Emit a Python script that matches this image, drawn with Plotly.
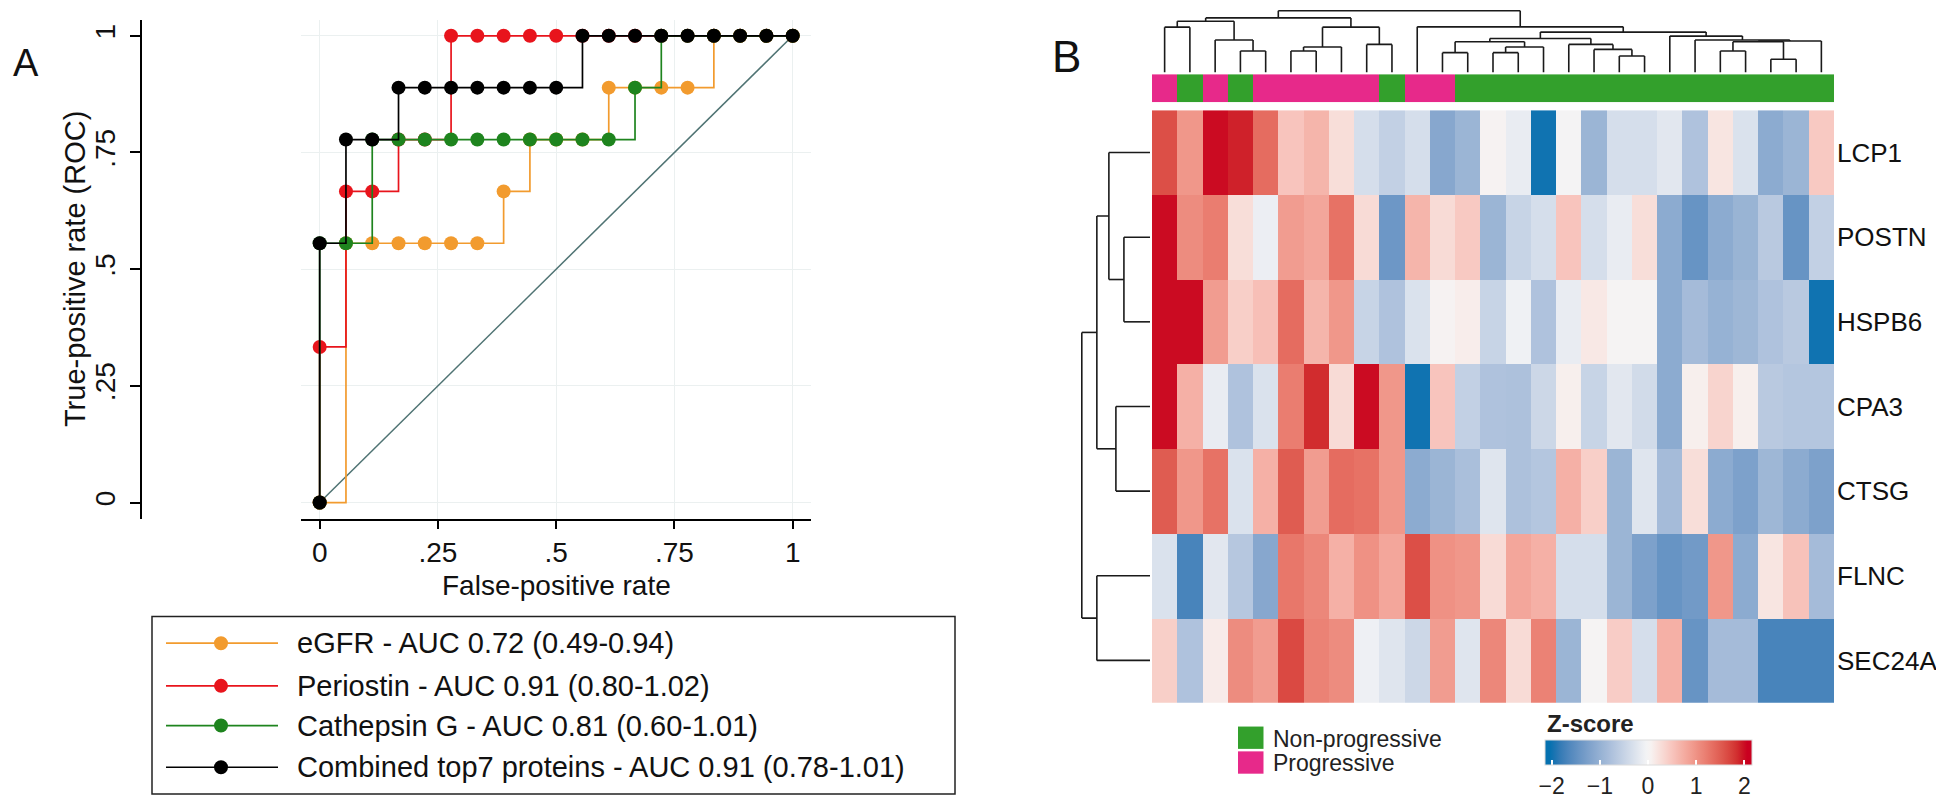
import plotly.graph_objects as go

# ---------------- DATA ----------------
N_NEG = 18
N_POS = 9
REF_LINE = [0, 1]

EGFR_FP = [0, 1, 2, 3, 4, 5, 6, 7, 8, 9, 10, 11, 12, 13, 14, 15, 16, 17, 18]
EGFR_TP = [0, 5, 5, 5, 5, 5, 5, 6, 7, 7, 7, 8, 8, 8, 8, 9, 9, 9, 9]
POSTN_FP = [0, 0, 1, 2, 3, 4, 5, 6, 7, 8, 9, 10, 11, 12, 13, 14, 15, 16, 17, 18]
POSTN_TP = [0, 3, 6, 6, 7, 7, 9, 9, 9, 9, 9, 9, 9, 9, 9, 9, 9, 9, 9, 9]
CTSG_FP = [0, 0, 1, 2, 3, 4, 5, 6, 7, 8, 9, 10, 11, 12, 13, 14, 15, 16, 17, 18]
CTSG_TP = [0, 5, 5, 7, 7, 7, 7, 7, 7, 7, 7, 7, 7, 8, 9, 9, 9, 9, 9, 9]
COMB_FP = [0, 0, 1, 2, 3, 4, 5, 6, 7, 8, 9, 10, 11, 12, 13, 14, 15, 16, 17, 18]
COMB_TP = [0, 5, 7, 7, 8, 8, 8, 8, 8, 8, 8, 9, 9, 9, 9, 9, 9, 9, 9, 9]

SERIES_NAMES = ["eGFR - AUC 0.72 (0.49-0.94)",
                "Periostin - AUC 0.91 (0.80-1.02)",
                "Cathepsin G - AUC 0.81 (0.60-1.01)",
                "Combined top7 proteins - AUC 0.91 (0.78-1.01)"]
SERIES_COLORS = ["#F29B2E", "#E8141C", "#1E841E", "#000000"]

ROC_TICKS = [0, 0.25, 0.5, 0.75, 1]
ROC_TICK_LABELS = ["0", ".25", ".5", ".75", "1"]

GENES = ["LCP1", "POSTN", "HSPB6", "CPA3", "CTSG", "FLNC", "SEC24A"]
LCP1 = [1.6, 0.95, 2.0, 1.9, 1.35, 0.5, 0.65, 0.25, -0.35, -0.55, -0.35, -1.15, -0.95, 0.03, -0.15, -2.0, -0.02, -0.95, -0.35, -0.35, -0.22, -0.75, 0.18, -0.3, -1.1, -0.95, 0.45]
POSTN = [2.0, 1.05, 1.2, 0.25, -0.12, 0.9, 0.8, 1.3, 0.28, -1.4, 0.65, 0.28, 0.45, -0.95, -0.5, -0.35, 0.5, -0.35, -0.15, 0.25, -1.1, -1.45, -1.1, -0.97, -0.65, -1.45, -0.55]
HSPB6 = [2.0, 2.0, 0.9, 0.4, 0.55, 1.35, 0.65, 0.95, -0.5, -0.75, -0.3, 0.02, 0.1, -0.5, -0.08, -0.75, -0.15, 0.15, 0.0, 0.0, -1.1, -0.85, -1.0, -0.92, -0.75, -0.65, -2.0]
CPA3 = [2.0, 0.7, -0.15, -0.75, -0.3, 1.2, 1.85, 0.28, 2.0, 0.95, -2.0, 0.5, -0.55, -0.75, -0.77, -0.45, 0.08, -0.5, -0.22, -0.4, -1.1, 0.08, 0.35, 0.08, -0.65, -0.7, -0.7]
CTSG = [1.5, 0.95, 1.3, -0.3, 0.7, 1.5, 0.9, 1.35, 1.3, 0.95, -1.1, -0.95, -0.8, -0.25, -0.77, -0.7, 0.7, 0.4, -0.95, -0.25, -0.85, 0.25, -1.1, -1.25, -0.92, -1.1, -1.25]
FLNC = [-0.3, -1.7, -0.22, -0.68, -1.15, 1.25, 1.1, 0.7, 1.0, 0.8, 1.6, 1.0, 0.95, 0.28, 0.8, 0.7, -0.35, -0.35, -0.95, -1.25, -1.45, -1.35, 0.95, -1.1, 0.18, 0.52, -0.85]
SEC24A = [0.4, -0.75, 0.12, 1.05, 0.9, 1.65, 1.15, 1.05, -0.1, -0.25, -0.45, 0.9, -0.25, 1.1, 0.28, 1.15, -0.95, 0.0, 0.42, -0.35, 0.7, -1.45, -0.85, -0.85, -1.7, -1.7, -1.7]

P, N = "Progressive", "Non-progressive"
GROUPS = [P, N, P, N, P, P, P, P, P, N, P, P] + [N] * 15
GROUP_COLORS = {"Non-progressive": "#33A02C", "Progressive": "#E7298A"}

# column dendrogram merges: (child a, child b, height); leaves 0..26, node 27+k
COL_MERGES = [
    (0, 1, 45.7), (3, 4, 21.7), (2, 28, 32.7), (27, 29, 51.7),
    (5, 6, 21.7), (31, 7, 25.7), (8, 9, 28.3), (32, 33, 45.7), (30, 34, 55.0),
    (11, 12, 20.0), (13, 14, 20.0), (37, 15, 25.7), (36, 38, 31.0),
    (18, 19, 16.7), (17, 40, 23.3), (16, 41, 28.3), (39, 42, 34.3),
    (22, 23, 21.7), (24, 25, 13.3), (44, 45, 31.0), (46, 26, 31.7),
    (21, 47, 32.7), (20, 48, 36.7), (43, 49, 40.7), (10, 50, 46.0), (35, 51, 62.3),
]
# row dendrogram merges, leaves 0..6
ROW_MERGES = [(1, 2, 26), (0, 7, 41), (3, 4, 34), (8, 9, 53), (5, 6, 53), (10, 11, 68)]

ZTICKS = [-2, -1, 0, 1, 2]

# ---------------- HELPERS ----------------
W, H = 1944, 797


def px(x):
    return x / W


def py(y):
    return 1 - y / H


def _lin(c):
    c = c / 255.0
    return c / 12.92 if c <= 0.04045 else ((c + 0.055) / 1.055) ** 2.4


def _srgb(c):
    v = 12.92 * c if c <= 0.0031308 else 1.055 * c ** (1 / 2.4) - 0.055
    return max(0, min(255, round(v * 255)))


def hex2lab(h):
    r, g, b = (_lin(int(h[i:i + 2], 16)) for i in (1, 3, 5))
    X = (0.4124 * r + 0.3576 * g + 0.1805 * b) / 0.95047
    Y = 0.2126 * r + 0.7152 * g + 0.0722 * b
    Z = (0.0193 * r + 0.1192 * g + 0.9505 * b) / 1.08883
    f = lambda t: t ** (1 / 3) if t > (6 / 29) ** 3 else t / (3 * (6 / 29) ** 2) + 4 / 29
    return 116 * f(Y) - 16, 500 * (f(X) - f(Y)), 200 * (f(Y) - f(Z))


def lab2hex(L, a, b):
    fy = (L + 16) / 116
    fx = fy + a / 500
    fz = fy - b / 200
    fi = lambda t: t ** 3 if t > 6 / 29 else 3 * (6 / 29) ** 2 * (t - 4 / 29)
    X, Y, Z = 0.95047 * fi(fx), fi(fy), 1.08883 * fi(fz)
    r = 3.2406 * X - 1.5372 * Y - 0.4986 * Z
    g = -0.9689 * X + 1.8758 * Y + 0.0415 * Z
    bb = 0.0557 * X - 0.2040 * Y + 1.0570 * Z
    return "#%02x%02x%02x" % tuple(_srgb(max(0, v)) for v in (r, g, bb))


def ramp(z, lo, mid, hi):
    """LAB colour ramp -2 -> 0 -> 2 (clamped)."""
    z = max(-2.0, min(2.0, z))
    if z <= 0:
        s = (z + 2) / 2
        L = [lo[k] + (mid[k] - lo[k]) * s for k in range(3)]
    else:
        s = z / 2
        L = [mid[k] + (hi[k] - mid[k]) * s for k in range(3)]
    return lab2hex(*L)


ZMIN, ZMAX = -2.15, 2.15


def build_scale(n=43):
    lo, mid, hi = hex2lab("#0571B0"), hex2lab("#F7F7F7"), hex2lab("#CA0020")
    out = []
    for i in range(n + 1):
        t = i / n
        z = ZMIN + t * (ZMAX - ZMIN)
        out.append([t, ramp(z, lo, mid, hi)])
    return out


def dendro(n, merges):
    pos = {i: float(i) for i in range(n)}
    hgt = {i: 0.0 for i in range(n)}
    xs, ys = [], []
    for k, (a, b, h) in enumerate(merges):
        for c in (a, b):
            xs += [pos[c], pos[c], None]
            ys += [hgt[c], h, None]
        xs += [pos[a], pos[b], None]
        ys += [h, h, None]
        pos[n + k] = (pos[a] + pos[b]) / 2
        hgt[n + k] = h
    return xs, ys


FA = "Liberation Sans, Arial, sans-serif"
FB = "Liberation Sans, Arial, sans-serif"

fig = go.Figure()

# ---------------- PANEL A: ROC ----------------
fig.add_trace(go.Scatter(x=REF_LINE, y=REF_LINE, mode="lines",
                         line=dict(color="#4F7373", width=1.5),
                         xaxis="x", yaxis="y", hoverinfo="skip", showlegend=False))
roc = [(EGFR_FP, EGFR_TP), (POSTN_FP, POSTN_TP), (CTSG_FP, CTSG_TP), (COMB_FP, COMB_TP)]
for (fp, tp), name, col in zip(roc, SERIES_NAMES, SERIES_COLORS):
    fig.add_trace(go.Scatter(
        x=[f / N_NEG for f in fp], y=[t / N_POS for t in tp], name=name,
        mode="lines+markers", line=dict(color=col, width=1.7, shape="hv"),
        marker=dict(size=14, color=col), xaxis="x", yaxis="y", showlegend=False))

# ---------------- PANEL B: heatmap ----------------
Z = [LCP1, POSTN, HSPB6, CPA3, CTSG, FLNC, SEC24A]
ncol = len(LCP1)
fig.add_trace(go.Heatmap(
    z=Z, x=list(range(ncol)), y=list(range(len(GENES))), colorscale=build_scale(),
    zmin=ZMIN, zmax=ZMAX, xaxis="x2", yaxis="y2", hoverinfo="skip",
    colorbar=dict(orientation="h", x=px(1640), xanchor="center", y=py(738), yanchor="top",
                  len=207, lenmode="pixels", thickness=25, thicknessmode="pixels",
                  tickvals=ZTICKS, ticks="inside", ticklen=5, tickwidth=1.5, tickcolor="white",
                  tickfont=dict(size=23, family=FB, color="#222"),
                  outlinewidth=1, outlinecolor="#dcdcdc", xpad=0, ypad=0)))

group_code = [1 if g == P else 0 for g in GROUPS]
fig.add_trace(go.Heatmap(
    z=[group_code], x=list(range(ncol)), y=[0], zmin=0, zmax=1, showscale=False,
    colorscale=[[0, GROUP_COLORS[N]], [0.5, GROUP_COLORS[N]], [0.5, GROUP_COLORS[P]], [1, GROUP_COLORS[P]]],
    xaxis="x3", yaxis="y3", hoverinfo="skip"))

cx, cy = dendro(ncol, COL_MERGES)
fig.add_trace(go.Scatter(x=cx, y=cy, mode="lines", line=dict(color="#1a1a1a", width=1.6),
                         xaxis="x4", yaxis="y4", hoverinfo="skip", showlegend=False))
ry, rx = dendro(len(GENES), ROW_MERGES)
fig.add_trace(go.Scatter(x=rx, y=ry, mode="lines", line=dict(color="#1a1a1a", width=1.6),
                         xaxis="x5", yaxis="y5", hoverinfo="skip", showlegend=False))

HM_X = [px(1144), px(1826)]
HM_Y = [py(700), py(103)]
hidden = dict(visible=False, showgrid=False, zeroline=False)

axis_common = dict(showline=True, linecolor="black", linewidth=1.5, ticks="outside",
                   tickwidth=1.5, tickcolor="black", showgrid=True, gridcolor="#EBF0F0",
                   gridwidth=1, zeroline=False, tickvals=ROC_TICKS, ticktext=ROC_TICK_LABELS,
                   tickfont=dict(size=28, family=FA, color="#111"))

fig.update_layout(
    width=W, height=H, autosize=False, margin=dict(l=0, r=0, t=0, b=0),
    paper_bgcolor="white", plot_bgcolor="white", showlegend=False,
    xaxis=dict(domain=[px(293), px(803)], range=[-0.0395, 1.0387], anchor="y",
               ticklen=8, ticklabelstandoff=0, **axis_common),
    yaxis=dict(domain=[py(515), py(11.7)], range=[-0.0355, 1.0347], anchor="free", position=px(133),
               ticklen=10, tickangle=-90, ticklabelstandoff=4, **axis_common),
    xaxis2=dict(domain=HM_X, range=[-0.5, ncol - 0.5], anchor="y2", showticklabels=False,
                showgrid=False, zeroline=False, ticks=""),
    yaxis2=dict(domain=HM_Y, range=[len(GENES) - 0.5, -0.5], anchor="x2", side="right",
                tickvals=list(range(len(GENES))), ticktext=GENES, ticks="", showgrid=False,
                zeroline=False, ticklabelstandoff=2, tickfont=dict(size=26, family=FB, color="#111")),
    xaxis3=dict(domain=HM_X, range=[-0.5, ncol - 0.5], anchor="y3", **hidden),
    yaxis3=dict(domain=[py(95), py(66.7)], range=[-0.5, 0.5], anchor="x3", **hidden),
    xaxis4=dict(domain=HM_X, range=[-0.5, ncol - 0.5], anchor="y4", **hidden),
    yaxis4=dict(domain=[py(65), py(2)], range=[0, 63], anchor="x4", **hidden),
    xaxis5=dict(domain=[px(1073), px(1142)], range=[68.8, 0], anchor="y5", **hidden),
    yaxis5=dict(domain=HM_Y, range=[len(GENES) - 0.5, -0.5], anchor="x5", **hidden),
)

ann = []
ann.append(dict(text="A", x=px(18), y=py(55), font=dict(size=38, family=FA, color="#111")))
ann.append(dict(text="True-positive rate (ROC)", x=px(67), y=py(263), textangle=-90,
                font=dict(size=29, family=FA, color="#111")))
ann.append(dict(text="False-positive rate", x=px(548), y=py(582),
                font=dict(size=28, family=FA, color="#111")))
ann.append(dict(text="B", x=px(1058), y=py(49), font=dict(size=44, family=FB, color="#111")))

shapes = []
# ROC legend box
shapes.append(dict(type="rect", xref="paper", yref="paper", x0=px(144), x1=px(947),
                   y0=py(792), y1=py(613), line=dict(color="#222", width=1.5)))
LEG_ROWS = [640, 683, 723, 765]
for name, col, ry_ in zip(SERIES_NAMES, SERIES_COLORS, LEG_ROWS):
    shapes.append(dict(type="line", xref="paper", yref="paper", x0=px(158), x1=px(270),
                       y0=py(ry_), y1=py(ry_), line=dict(color=col, width=1.7)))
    shapes.append(dict(type="circle", xref="paper", yref="paper", xsizemode="pixel",
                       ysizemode="pixel", xanchor=px(213), yanchor=py(ry_),
                       x0=-7, x1=7, y0=-7, y1=7, fillcolor=col, line=dict(width=0)))
    ann.append(dict(text=name, x=px(287), y=py(ry_), xanchor="left",
                    font=dict(size=29, family=FA, color="#111")))

# group legend
for lab, top, cy_ in [(N, 724, 737), (P, 749, 761)]:
    shapes.append(dict(type="rect", xref="paper", yref="paper", x0=px(1230), x1=px(1255.5),
                       y0=py(top + 22.5), y1=py(top), fillcolor=GROUP_COLORS[lab], line=dict(width=0)))
    ann.append(dict(text=lab, x=px(1263), y=py(cy_), xanchor="left",
                    font=dict(size=23, family=FB, color="#222")))
ann.append(dict(text="<b>Z-score</b>", x=px(1537), y=py(721), xanchor="left",
                font=dict(size=24, family=FB, color="#222")))

for a in ann:
    a.setdefault("xref", "paper")
    a.setdefault("yref", "paper")
    a.setdefault("xanchor", "center")
    a.setdefault("yanchor", "middle")
    a.setdefault("showarrow", False)
fig.update_layout(annotations=ann, shapes=shapes)

fig.write_html("out.html")
